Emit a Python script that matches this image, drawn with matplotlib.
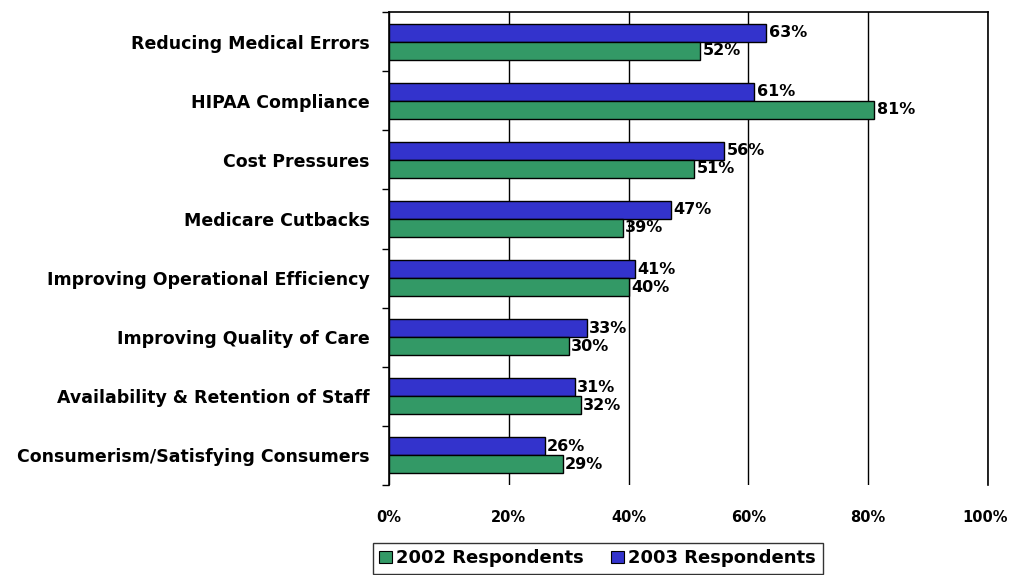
import numpy as np
import matplotlib
matplotlib.use("Agg")
from matplotlib import pyplot as plt
from matplotlib.patches import Patch
from matplotlib.transforms import ScaledTranslation

plt.rcParams['font.family'] = ['DejaVu Sans']
plt.rcParams['font.weight'] = 'bold'

categories = ["Reducing Medical Errors", "HIPAA Compliance", "Cost Pressures",
              "Medicare Cutbacks", "Improving Operational Efficiency",
              "Improving Quality of Care", "Availability & Retention of Staff",
              "Consumerism/Satisfying Consumers"]
resp_2003 = [63, 61, 56, 47, 41, 33, 31, 26]
resp_2002 = [52, 81, 51, 39, 40, 30, 32, 29]
xticks = [0, 20, 40, 60, 80, 100]

green = '#339966'
blue = '#3333cc'

fig = plt.figure(figsize=(10.1, 5.75), dpi=100)
ax = fig.add_axes([389/1010, 1-485/575, (988-389)/1010, (485-12)/575])

y = np.arange(len(categories))
h = 0.305
ax.barh(y - h/2, resp_2003, height=h, color=blue, edgecolor='black', lw=1, zorder=3)
ax.barh(y + h/2, resp_2002, height=h, color=green, edgecolor='black', lw=1, zorder=3)

for yi, v in zip(y, resp_2003):
    ax.text(v + 0.4, yi - h/2, f"{v}%", va='center', ha='left', fontsize=11.5, zorder=4)
for yi, v in zip(y, resp_2002):
    ax.text(v + 0.4, yi + h/2, f"{v}%", va='center', ha='left', fontsize=11.5, zorder=4)

ax.set_xlim(0, 100)
ax.set_ylim(len(categories) - 0.5, -0.5)
ax.set_xticks(xticks)
ax.set_xticklabels([f"{t}%" for t in xticks], fontsize=10.5)
ax.tick_params(axis='x', length=0, pad=18)
# last label sits a little inside the edge, as in the original
last = ax.get_xticklabels()[-1]
last.set_transform(last.get_transform() + ScaledTranslation(-3/100, 0, fig.dpi_scale_trans))
ax.set_yticks(y)
ax.set_yticklabels(categories, fontsize=12.5)
ax.set_yticks(np.arange(len(categories) + 1) - 0.5, minor=True)
ax.tick_params(axis='y', which='major', length=0, pad=14)
ax.tick_params(axis='y', which='minor', length=5, width=1, direction='out')
ax.grid(axis='x', color='black', lw=1, zorder=0)

for s in ['top', 'right', 'left']:
    ax.spines[s].set_linewidth(1.2)
ax.spines['bottom'].set_visible(False)

handles = [Patch(facecolor=green, edgecolor='black', lw=0.8, label='2002 Respondents'),
           Patch(facecolor=blue, edgecolor='black', lw=0.8, label='2003 Respondents')]
fig.legend(handles=handles, loc='upper left', bbox_to_anchor=(373/1010, 1-543/575), ncol=2,
           frameon=True, fancybox=False, edgecolor='black',
           handlelength=0.7, handleheight=0.7, handletextpad=0.25, columnspacing=1.5,
           borderpad=0.35, borderaxespad=0, prop={'weight': 'bold', 'size': 13})

fig.savefig("out.png", dpi=100)
